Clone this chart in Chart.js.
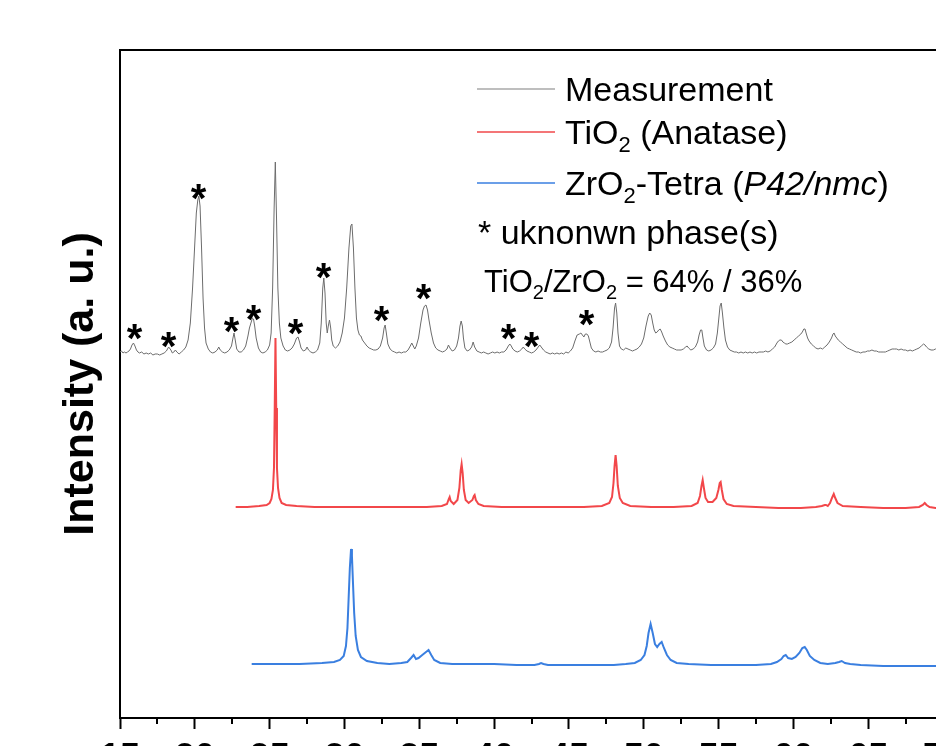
<!DOCTYPE html>
<html>
<head>
<meta charset="utf-8">
<script src="https://cdn.jsdelivr.net/npm/chart.js@4"></script>
<style>
html, body { margin: 0; padding: 0; overflow: hidden; background: #fff; }
#wrap { position: absolute; left: 0; top: 0; width: 990px; height: 800px; }
</style>
</head>
<body>
<div id="wrap"><canvas id="ctx" width="990" height="800"></canvas></div>
<script>
// 2theta (deg) / intensity (a.u., offset stacked)
const measurement = [
  [15.0,366],[15.1,367],[15.2,365],[15.3,366],[15.4,365],[15.5,366],[15.6,367],[15.7,369],[15.8,373],[15.9,375],
  [16.0,372],[16.1,368],[16.2,366],[16.3,365],[16.45,366],[16.6,364],[16.75,365],[16.9,364],[17.05,365],[17.2,363],
  [17.35,364],[17.5,364],[17.65,363],[17.8,364],[17.95,365],[18.1,367],[18.25,371],[18.4,368],[18.5,365],[18.6,366],
  [18.7,368],[18.8,366],[18.95,364],[19.1,366],[19.25,368],[19.4,371],[19.55,378],[19.7,395],[19.85,430],[20.0,475],
  [20.1,505],[20.2,518],[20.27,522],[20.35,512],[20.45,470],[20.55,420],[20.65,390],[20.75,375],[20.9,369],[21.05,366],
  [21.2,365],[21.35,366],[21.5,368],[21.6,371],[21.7,368],[21.85,366],[22.0,365],[22.15,366],[22.3,368],[22.45,372],
  [22.55,380],[22.62,385],[22.7,378],[22.8,369],[22.95,366],[23.1,366],[23.25,368],[23.4,372],[23.55,382],[23.65,390],
  [23.75,395],[23.85,400],[23.92,399],[24.0,392],[24.1,380],[24.25,370],[24.4,366],[24.55,365],[24.7,366],[24.85,368],
  [25.0,373],[25.1,385],[25.2,430],[25.3,510],[25.38,556],[25.46,500],[25.55,430],[25.65,395],[25.75,380],[25.9,372],
  [26.05,368],[26.2,367],[26.35,368],[26.5,370],[26.65,374],[26.8,380],[26.9,381],[27.0,376],[27.1,370],[27.25,367],
  [27.4,368],[27.5,371],[27.6,368],[27.75,366],[27.9,365],[28.05,366],[28.2,368],[28.35,375],[28.45,395],[28.55,430],
  [28.62,440],[28.7,425],[28.78,395],[28.85,385],[28.92,392],[29.0,398],[29.08,390],[29.15,378],[29.25,372],[29.4,370],
  [29.55,372],[29.7,376],[29.85,385],[30.0,400],[30.15,430],[30.3,470],[30.42,492],[30.5,494],[30.6,470],[30.7,430],
  [30.8,400],[30.9,388],[31.0,383],[31.1,382],[31.2,378],[31.35,375],[31.5,372],[31.65,370],[31.8,369],[31.95,368],
  [32.1,368],[32.25,369],[32.4,372],[32.55,380],[32.65,390],[32.72,393],[32.8,385],[32.9,374],[33.05,369],[33.2,367],
  [33.35,366],[33.5,365],[33.65,366],[33.8,365],[33.95,366],[34.1,366],[34.25,368],[34.4,372],[34.5,375],[34.6,372],
  [34.7,369],[34.8,372],[34.95,380],[35.1,395],[35.25,408],[35.35,412],[35.45,413],[35.55,408],[35.65,398],[35.8,385],
  [35.95,375],[36.1,370],[36.25,368],[36.4,367],[36.55,366],[36.7,367],[36.85,369],[36.95,373],[37.05,370],[37.2,367],
  [37.35,368],[37.5,372],[37.62,380],[37.72,392],[37.8,397],[37.88,392],[37.95,380],[38.05,370],[38.2,367],[38.35,368],
  [38.5,371],[38.6,376],[38.7,371],[38.85,367],[39.0,366],[39.15,365],[39.3,366],[39.45,365],[39.6,364],[39.75,365],
  [39.9,366],[40.05,365],[40.2,366],[40.35,365],[40.5,366],[40.65,366],[40.8,368],[40.95,372],[41.05,374],[41.15,372],
  [41.25,369],[41.4,367],[41.55,366],[41.7,367],[41.85,369],[41.95,371],[42.05,369],[42.2,367],[42.35,366],[42.5,365],
  [42.65,366],[42.8,368],[42.95,371],[43.05,373],[43.15,371],[43.3,368],[43.45,366],[43.6,365],[43.75,364],[43.9,365],
  [44.05,364],[44.2,365],[44.35,364],[44.5,365],[44.65,364],[44.8,366],[44.95,365],[45.1,367],[45.25,370],[45.4,377],
  [45.55,383],[45.7,384],[45.8,385],[45.9,383],[46.0,381],[46.1,384],[46.2,384],[46.3,382],[46.4,376],[46.5,370],
  [46.65,367],[46.8,366],[46.95,367],[47.1,366],[47.25,366],[47.4,367],[47.55,368],[47.7,370],[47.85,376],[47.95,390],
  [48.05,410],[48.12,415],[48.2,405],[48.28,385],[48.38,372],[48.5,369],[48.65,368],[48.8,370],[48.95,369],[49.1,368],
  [49.25,367],[49.4,368],[49.55,369],[49.7,371],[49.85,374],[50.0,380],[50.15,392],[50.3,402],[50.4,405],[50.5,403],
  [50.6,395],[50.7,388],[50.8,385],[50.9,386],[51.0,388],[51.1,389],[51.2,386],[51.3,382],[51.45,377],[51.6,373],
  [51.75,371],[51.9,370],[52.05,369],[52.2,368],[52.35,368],[52.5,368],[52.65,369],[52.8,371],[52.9,372],[53.0,370],
  [53.15,368],[53.3,369],[53.45,371],[53.6,376],[53.7,383],[53.8,388],[53.88,388],[53.96,380],[54.05,372],[54.2,368],
  [54.35,367],[54.5,368],[54.65,370],[54.8,374],[54.92,385],[55.02,400],[55.1,412],[55.18,415],[55.26,405],[55.36,390],
  [55.46,378],[55.6,371],[55.75,368],[55.9,367],[56.05,366],[56.2,366],[56.35,365],[56.5,366],[56.65,365],[56.8,366],
  [56.95,365],[57.1,366],[57.25,365],[57.4,366],[57.55,365],[57.7,366],[57.85,366],[58.0,366],[58.15,367],[58.3,366],
  [58.45,367],[58.6,369],[58.75,371],[58.9,375],[59.0,377],[59.1,378],[59.2,378],[59.3,376],[59.4,375],[59.5,374],
  [59.6,374],[59.75,375],[59.9,376],[60.05,378],[60.2,380],[60.35,382],[60.5,384],[60.6,386],[60.7,389],[60.78,389],
  [60.85,385],[60.95,380],[61.05,377],[61.2,374],[61.35,372],[61.5,370],[61.65,369],[61.8,370],[61.95,369],[62.1,371],
  [62.25,373],[62.4,376],[62.55,380],[62.65,384],[62.72,385],[62.8,382],[62.9,380],[63.0,378],[63.15,376],[63.3,374],
  [63.45,372],[63.6,370],[63.75,369],[63.9,368],[64.05,367],[64.2,366],[64.35,366],[64.5,365],[64.65,366],[64.8,366],
  [64.95,367],[65.1,367],[65.25,368],[65.4,367],[65.55,367],[65.7,366],[65.85,366],[66.0,366],[66.15,366],[66.3,367],
  [66.45,368],[66.6,369],[66.75,369],[66.9,369],[67.05,368],[67.2,369],[67.35,368],[67.5,368],[67.65,367],[67.8,368],
  [67.95,367],[68.1,368],[68.25,369],[68.4,370],[68.55,372],[68.7,374],[68.8,373],[68.9,371],[69.05,369],[69.2,368],
  [69.35,368],[69.5,369],[69.65,368],[69.8,368],[70.0,367]
];

const anatase = [
  [22.73,211],[23.5,211],[24.3,212],[24.8,213],[25.0,215],[25.12,219],[25.22,228],[25.29,250],[25.34,310],[25.39,380],
  [25.44,310],[25.49,250],[25.56,230],[25.66,220],[25.8,215],[26.1,213],[26.8,212],[28,211],[30,211],[32,211],
  [34,211],[35.5,211],[36.5,212],[36.85,214],[36.97,219],[37.03,221],[37.1,217],[37.3,214],[37.55,218],[37.68,230],
  [37.77,248],[37.83,254],[37.9,245],[37.98,228],[38.1,218],[38.3,215],[38.55,218],[38.65,222],[38.7,223],[38.78,218],
  [38.95,214],[39.3,212],[40.5,211],[42,211],[44,211],[46,211],[47.2,212],[47.7,215],[47.88,221],[47.98,235],
  [48.05,252],[48.12,263],[48.19,252],[48.27,232],[48.4,220],[48.6,215],[49.1,212],[50.5,211],[52,211],[53.2,212],
  [53.6,215],[53.76,222],[53.86,232],[53.94,238],[54.02,230],[54.13,220],[54.3,216],[54.6,216],[54.85,220],[54.99,228],
  [55.08,235],[55.14,236],[55.22,228],[55.33,219],[55.55,214],[56,212],[57.5,211],[59,210],[60.5,210],[61.5,211],
  [61.9,212],[62.1,213],[62.18,213],[62.3,212],[62.45,215],[62.58,220],[62.7,224],[62.8,220],[62.95,215],[63.3,212],
  [64.5,211],[66,210],[67.5,210],[68.4,211],[68.65,213],[68.78,215],[68.9,213],[69.1,211],[69.5,210],[70,210]
];

const zirconia = [
  [23.8,54],[25,54],[27,54],[28.5,55],[29.3,56],[29.7,58],[29.95,62],[30.1,72],[30.2,90],[30.28,120],
  [30.36,150],[30.44,169],[30.5,162],[30.57,135],[30.65,105],[30.75,82],[30.9,68],[31.1,61],[31.5,57],[32.2,55],
  [33,54],[33.8,55],[34.2,56],[34.45,60],[34.62,63],[34.78,59],[34.95,60],[35.2,63],[35.45,66],[35.62,68],
  [35.8,63],[36.0,58],[36.4,55],[37.2,54],[38.5,54],[40,54],[41.5,53],[42.7,53],[43.0,54],[43.14,55],
  [43.3,54],[43.6,53],[45,53],[46.5,53],[48,53],[48.8,54],[49.4,55],[49.8,58],[50.05,63],[50.2,72],
  [50.32,85],[50.46,94],[50.6,85],[50.75,74],[50.9,71],[51.05,74],[51.2,76],[51.35,70],[51.55,63],[51.8,58],
  [52.2,55],[53,54],[54.5,53],[56,53],[57.5,53],[58.5,54],[58.9,56],[59.2,59],[59.35,62],[59.49,63],
  [59.65,60],[59.9,59],[60.15,61],[60.4,65],[60.6,70],[60.76,71],[60.9,68],[61.1,62],[61.4,58],[61.8,55],
  [62.3,54],[62.8,55],[63.05,56],[63.23,57],[63.45,55],[63.8,54],[64.5,53],[66,52],[68,52],[70,52]
];

// unknown phase markers (2theta, height of the * mark)
const starTheta = [15.97, 18.24, 20.25, 22.45, 23.92, 26.73, 28.6, 32.48, 35.29, 40.97, 42.5, 46.18];
const starLevel = [386, 378, 526, 393, 405, 391, 447, 404, 426, 386, 378, 400];

const seriesNames = ['Measurement', 'TiO2 (Anatase)', 'ZrO2-Tetra (P42/nmc)'];

const FONT = "'Liberation Sans', Arial, Helvetica, sans-serif";

const toXY = arr => arr.map(p => ({x: p[0], y: p[1]}));

// draw a row of text pieces, some subscript / italic
function drawRuns(c, x, y, runs, size) {
  runs.forEach(r => {
    let fs = size, dy = 0, style = '';
    if (r[1] === 'sub') { fs = Math.round(size * 0.65); dy = size * 0.24; }
    if (r[1] === 'i') style = 'italic ';
    c.font = style + fs + 'px ' + FONT;
    c.fillText(r[0], x, y + dy);
    x += c.measureText(r[0]).width;
  });
}

const extras = {
  id: 'extras',
  afterDatasetsDraw(chart) {
    const c = chart.ctx, xs = chart.scales.x, ys = chart.scales.y;
    c.save();
    c.fillStyle = '#000';
    c.textAlign = 'center';
    c.textBaseline = 'alphabetic';
    c.font = 'bold 40px ' + FONT;
    const m = c.measureText('*');
    const off = (m.actualBoundingBoxAscent - m.actualBoundingBoxDescent) / 2;
    starTheta.forEach((t, i) => {
      c.fillText('*', xs.getPixelForValue(t), ys.getPixelForValue(starLevel[i]) + off);
    });
    c.restore();
  },
  afterDraw(chart) {
    const c = chart.ctx, xs = chart.scales.x, a = chart.chartArea;
    c.save();
    // minor ticks
    c.strokeStyle = '#000';
    c.lineWidth = 2;
    for (let v = 17.5; v < xs.max; v += 5) {
      const px = Math.round(xs.getPixelForValue(v));
      c.beginPath();
      c.moveTo(px, a.bottom);
      c.lineTo(px, a.bottom + 6);
      c.stroke();
    }
    // legend
    const colors = ['#a8a8a8', '#f0474a', '#3a7fe0'];
    const rows = [89, 132, 183];
    c.lineWidth = 1.5;
    rows.forEach((ly, i) => {
      c.strokeStyle = colors[i];
      c.beginPath();
      c.moveTo(477, ly);
      c.lineTo(555, ly);
      c.stroke();
    });
    c.fillStyle = '#000';
    c.textAlign = 'left';
    c.textBaseline = 'alphabetic';
    drawRuns(c, 565, 101, [['Measurement']], 34);
    drawRuns(c, 565, 144, [['TiO'], ['2', 'sub'], [' (Anatase)']], 34);
    drawRuns(c, 565, 195, [['ZrO'], ['2', 'sub'], ['-Tetra ('], ['P42/nmc', 'i'], [')']], 34);
    drawRuns(c, 478, 244, [['* uknonwn phase(s)']], 34);
    drawRuns(c, 484, 292, [['TiO'], ['2', 'sub'], ['/ZrO'], ['2', 'sub'], [' = 64% / 36%']], 31);
    c.restore();
  }
};

new Chart(document.getElementById('ctx'), {
  type: 'scatter',
  data: {
    datasets: [
      {label: seriesNames[0], data: toXY(measurement), showLine: true, borderColor: '#6c6c6c', borderWidth: 1, pointRadius: 0},
      {label: seriesNames[1], data: toXY(anatase), showLine: true, borderColor: '#f2474a', borderWidth: 2, pointRadius: 0},
      {label: seriesNames[2], data: toXY(zirconia), showLine: true, borderColor: '#3a7fe0', borderWidth: 2, pointRadius: 0}
    ]
  },
  options: {
    responsive: false,
    animation: false,
    devicePixelRatio: 1,
    layout: {padding: {left: 0, top: 50, right: 47, bottom: 0}},
    plugins: {legend: {display: false}, tooltip: {enabled: false}},
    scales: {
      x: {
        type: 'linear', position: 'bottom', min: 15, max: 70,
        afterFit(s) { s.height = 82; },
        border: {display: true, color: '#000', width: 2},
        grid: {display: true, drawOnChartArea: false, drawTicks: true, tickLength: 11, tickWidth: 2, tickColor: '#000'},
        ticks: {stepSize: 5, padding: 8, color: '#000', maxRotation: 0, font: {family: FONT, size: 36, weight: 'bold'}}
      },
      x2: {
        type: 'linear', position: 'top', min: 15, max: 70,
        afterFit(s) { s.height = 0; },
        border: {display: true, color: '#000', width: 2},
        grid: {display: false},
        ticks: {display: false}
      },
      y: {
        type: 'linear', position: 'left', min: 0, max: 668,
        afterFit(s) { s.width = 120; },
        border: {display: true, color: '#000', width: 2},
        grid: {display: false},
        ticks: {display: false},
        title: {display: true, text: 'Intensity (a. u.)', color: '#000', padding: {top: 55, bottom: 0},
          font: {family: FONT, size: 43, weight: 'bold'}}
      }
    }
  },
  plugins: [extras]
});
</script>
</body>
</html>
